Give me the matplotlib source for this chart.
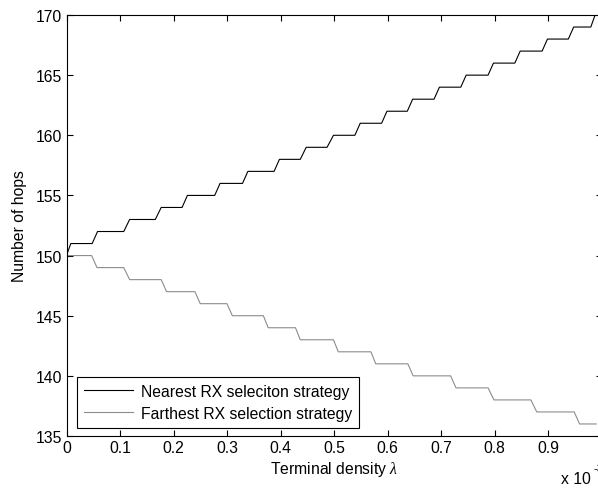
import matplotlib
matplotlib.use("Agg")
import matplotlib.pyplot as plt

plt.rcParams['font.family'] = ['Liberation Sans', 'DejaVu Sans']
plt.rcParams['mathtext.fontset'] = 'custom'
plt.rcParams['mathtext.it'] = 'Liberation Serif:italic'
plt.rcParams['mathtext.rm'] = 'Liberation Sans'

# Terminal density (x 1e-3) vertices of the step curves
nearest_x = [0, 0.008, 0.048, 0.058, 0.107, 0.118, 0.166, 0.177, 0.216, 0.226,
             0.277, 0.287, 0.329, 0.339, 0.388, 0.398, 0.437, 0.448, 0.487, 0.499,
             0.539, 0.549, 0.589, 0.599, 0.637, 0.647, 0.687, 0.697, 0.737, 0.747,
             0.788, 0.798, 0.838, 0.848, 0.889, 0.899, 0.938, 0.948, 0.980, 0.988, 0.99]
nearest_y = [150, 151, 151, 152, 152, 153, 153, 154, 154, 155,
             155, 156, 156, 157, 157, 158, 158, 159, 159, 160,
             160, 161, 161, 162, 162, 163, 163, 164, 164, 165,
             165, 166, 166, 167, 167, 168, 168, 169, 169, 170, 170]

farthest_x = [0, 0.047, 0.057, 0.107, 0.118, 0.177, 0.187, 0.240, 0.250, 0.300,
              0.310, 0.368, 0.377, 0.428, 0.437, 0.499, 0.508, 0.569, 0.578, 0.638,
              0.648, 0.718, 0.728, 0.788, 0.799, 0.868, 0.879, 0.949, 0.959, 0.99]
farthest_y = [150, 150, 149, 149, 148, 148, 147, 147, 146, 146,
              145, 145, 144, 144, 143, 143, 142, 142, 141, 141,
              140, 140, 139, 139, 138, 138, 137, 137, 136, 136]

labels = ["Nearest RX seleciton strategy", "Farthest RX selection strategy"]
xticks = [0, 0.1, 0.2, 0.3, 0.4, 0.5, 0.6, 0.7, 0.8, 0.9, 1.0]
xticklabels = ["0", "0.1", "0.2", "0.3", "0.4", "0.5", "0.6", "0.7", "0.8", "0.9", ""]
yticks = [135, 140, 145, 150, 155, 160, 165, 170]

FS = 11.3

fig = plt.figure(figsize=(5.98, 4.89), dpi=100)
ax = fig.add_axes([66.5 / 598, 52 / 489, 535 / 598, 421 / 489])

ax.plot(nearest_x, nearest_y, color='black', lw=0.8, label=labels[0])
ax.plot(farthest_x, farthest_y, color='#8c8c8c', lw=0.8, label=labels[1])

ax.set_xlim(0, 1)
ax.set_ylim(135, 170)
ax.set_xticks(xticks)
ax.set_xticklabels(xticklabels)
ax.set_yticks(yticks)
ax.tick_params(direction='in', top=True, right=True, length=4, width=0.8,
               labelsize=FS, pad=3)
for s in ax.spines.values():
    s.set_linewidth(0.8)

ax.set_xlabel(r"Terminal density $\lambda$", fontsize=FS, labelpad=3)
ax.set_ylabel("Number of hops", fontsize=FS, labelpad=6)

leg = ax.legend(loc='lower left', bbox_to_anchor=(0.0196, 0.019), borderaxespad=0,
                fancybox=False, edgecolor='black', framealpha=1, fontsize=FS,
                handlelength=3.1, handletextpad=0.5, labelspacing=0.45,
                borderpad=0.45)
leg.get_frame().set_linewidth(0.8)

fig.text(561 / 598, 9 / 489, "x 10", fontsize=FS, ha='left', va='center')
fig.text(593 / 598, 20 / 489, "-3", fontsize=8, ha='left', va='center')

fig.savefig("out.png", dpi=100)
